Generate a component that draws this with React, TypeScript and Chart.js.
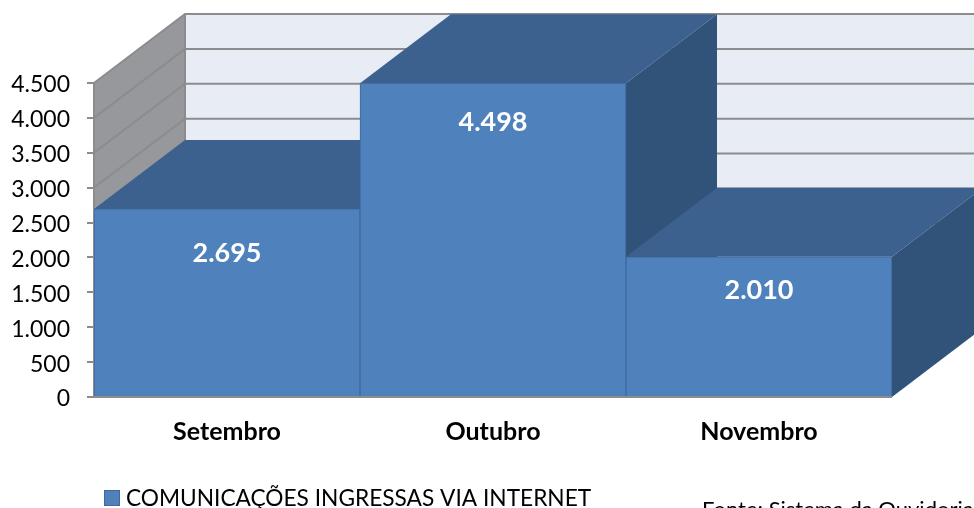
import React, { useEffect, useRef } from "react";
import { Chart, registerables } from "chart.js";

Chart.register(...registerables);

const categories = ["Setembro", "Outubro", "Novembro"];
const seriesName = "COMUNICAÇÕES INGRESSAS VIA INTERNET";
const values = [2695, 4498, 2010];
const sourceNote = "Fonte: Sistema da Ouvidoria";

const FONT = "Lato, Carlito, 'Open Sans', sans-serif";
const DEPTH_X = 91;
const DEPTH_Y = 69;
const FRONT = "#4f81bd";
const EDGE = "#3d6a9c";
const TOP = "#3c618f";
const SIDE = "#325379";
const WALL_BACK = "#e8ecf5";
const WALL_LEFT = "#96989c";
const GRID = "#8c8c8e";
const LABEL_DROP = [44.5, 39.5, 33.5];

const fmt = (v: number) => String(v).replace(/\B(?=(\d{3})+(?!\d))/g, ".");

function poly(ctx: CanvasRenderingContext2D, pts: number[][], fill: string) {
  ctx.beginPath();
  pts.forEach((p, i) => (i ? ctx.lineTo(p[0], p[1]) : ctx.moveTo(p[0], p[1])));
  ctx.closePath();
  ctx.fillStyle = fill;
  ctx.fill();
}

const plugin3d = {
  id: "bars3d",
  beforeDatasetsDraw(chart: any) {
    const { ctx, chartArea: a, scales } = chart;
    const y = scales.y;
    const base = y.getPixelForValue(0);
    const topY = y.getPixelForValue(4500);
    const dx = DEPTH_X;
    const dy = DEPTH_Y;
    ctx.save();
    poly(ctx, [[a.left, topY], [a.left + dx, topY - dy], [a.left + dx, base - dy], [a.left, base]], WALL_LEFT);
    poly(ctx, [[a.left + dx, topY - dy], [a.right + dx, topY - dy], [a.right + dx, base - dy], [a.left + dx, base - dy]], WALL_BACK);
    ctx.strokeStyle = GRID;
    ctx.lineWidth = 2;
    y.ticks.forEach((t: any) => {
      const py = y.getPixelForValue(t.value);
      ctx.beginPath();
      ctx.moveTo(a.left, py);
      ctx.lineTo(a.left + dx, py - dy);
      ctx.lineTo(a.right + dx, py - dy);
      ctx.stroke();
    });
    ctx.beginPath();
    ctx.moveTo(a.left, base);
    ctx.lineTo(a.left, topY);
    ctx.stroke();
    ctx.beginPath();
    ctx.moveTo(a.left + dx, topY - dy);
    ctx.lineTo(a.left + dx, base - dy);
    ctx.stroke();

    const meta = chart.getDatasetMeta(0);
    meta.data.forEach((bar: any) => {
      const l = bar.x - bar.width / 2;
      const r = bar.x + bar.width / 2;
      const t = bar.y;
      poly(ctx, [[r, t], [r + dx, t - dy], [r + dx, base - dy], [r, base]], SIDE);
      poly(ctx, [[l, t], [r, t], [r + dx, t - dy], [l + dx, t - dy]], TOP);
    });
    ctx.restore();
  },
  afterDatasetsDraw(chart: any) {
    const { ctx, chartArea: a } = chart;
    ctx.save();
    // axis base line
    ctx.strokeStyle = GRID;
    ctx.lineWidth = 2;
    ctx.beginPath();
    ctx.moveTo(a.left, a.bottom);
    ctx.lineTo(a.right, a.bottom);
    ctx.stroke();
    // data labels
    ctx.fillStyle = "#ffffff";
    ctx.font = `bold 27px ${FONT}`;
    ctx.textAlign = "center";
    ctx.textBaseline = "middle";
    chart.getDatasetMeta(0).data.forEach((bar: any, i: number) => {
      ctx.fillText(fmt(values[i]), bar.x, bar.y + LABEL_DROP[i]);
    });
    // legend
    ctx.fillStyle = FRONT;
    ctx.strokeStyle = EDGE;
    ctx.lineWidth = 1;
    ctx.fillRect(104, 490, 15, 15);
    ctx.strokeRect(104.5, 490.5, 15, 15);
    ctx.fillStyle = "#000000";
    ctx.textAlign = "left";
    ctx.textBaseline = "alphabetic";
    ctx.font = `22.7px ${FONT}`;
    ctx.fillText(seriesName, 126, 506);
    ctx.font = `22px ${FONT}`;
    ctx.fillText(sourceNote, 702, 517);
    ctx.restore();
  },
};

export default function App() {
  const ref = useRef<HTMLCanvasElement | null>(null);
  useEffect(() => {
    if (!ref.current) return;
    const chart = new Chart(ref.current, {
      type: "bar",
      data: {
        labels: categories,
        datasets: [
          {
            label: seriesName,
            data: values,
            backgroundColor: FRONT,
            borderColor: EDGE,
            borderWidth: 1,
            categoryPercentage: 1,
            barPercentage: 1,
          },
        ],
      },
      options: {
        responsive: false,
        animation: false,
        layout: { padding: { left: 0, right: 82, top: 83, bottom: 0 } },
        plugins: { legend: { display: false }, tooltip: { enabled: false } },
        scales: {
          x: {
            afterFit: (s: any) => { s.height = 111; },
            grid: { display: false },
            border: { display: false },
            ticks: { color: "#000", padding: 12, font: { family: FONT, size: 25, weight: "bold" }, maxRotation: 0 },
          },
          y: {
            min: 0,
            max: 4500,
            afterFit: (s: any) => { s.width = 94; },
            grid: { drawOnChartArea: false, drawTicks: true, tickLength: 7, color: GRID, lineWidth: 2 },
            border: { display: false },
            ticks: {
              stepSize: 500,
              color: "#000",
              padding: 17,
              labelOffset: 2,
              font: { family: FONT, size: 23 },
              callback: (v: any) => fmt(Number(v)),
            },
          },
        },
      },
      plugins: [plugin3d],
    } as any);
    return () => chart.destroy();
  }, []);
  return (
    <div style={{ position: "absolute", left: 0, top: 0, width: 974, height: 508, overflow: "hidden", background: "#fff" }}>
      <canvas ref={ref} width={974} height={508} style={{ display: "block" }} />
    </div>
  );
}
